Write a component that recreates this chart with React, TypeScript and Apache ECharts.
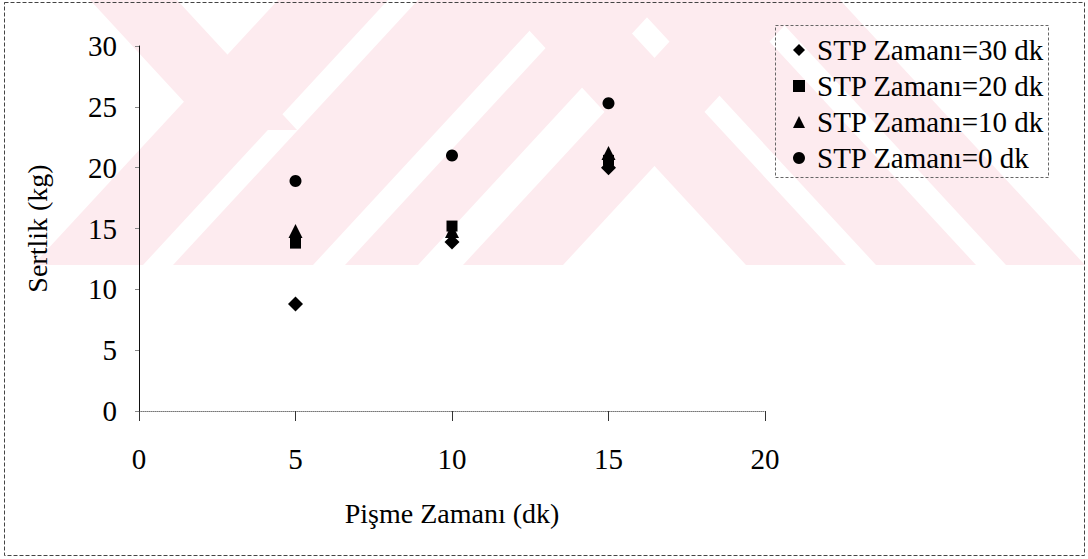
import React, { useEffect, useRef } from "react";
import * as echarts from "echarts";

const seriesNames = ["STP Zamanı=30 dk", "STP Zamanı=20 dk", "STP Zamanı=10 dk", "STP Zamanı=0 dk"];
const cookTimes = [5, 10, 15];
const hardness30 = [8.8, 13.9, 20.0];
const hardness20 = [13.8, 15.2, 20.6];
const hardness10 = [14.8, 14.8, 21.2];
const hardness0 = [18.9, 21.0, 25.3];
const xTicks = [0, 20, 5];
const yTicks = [0, 30, 5];

const FONT = "Liberation Serif";
const PINK = "#fdebef";

function band(x1: number, x2: number, dx: number, topY: number, botY: number) {
  return {
    type: "polygon",
    z: -10,
    silent: true,
    shape: { points: [[x1, topY], [x2, topY], [x2 + dx, botY], [x1 + dx, botY]] },
    style: { fill: PINK },
  };
}

export default function App() {
  const ref = useRef<HTMLDivElement>(null);
  useEffect(() => {
    document.body.style.margin = "0";
    const chart = echarts.init(ref.current!, null, { renderer: "svg" });
    const data = [hardness30, hardness20, hardness10, hardness0];
    const symbols = ["diamond", "rect", "triangle", "circle"];
    const sizes = [15, 11, 14, 12];
    const watermark = [
      band(278, 388, -245, 0, 265),
      band(418, 558, -245, 0, 265),
      band(590, 663, -245, 0, 265),
      band(708, 808, -245, 0, 265),
      band(90, 177, 120, 0, 130),
      band(501, 601, 245, 0, 265),
      band(631, 731, 245, 0, 265),
      band(761, 840, 245, 0, 265),
    ];
    chart.setOption({
      animation: false,
      textStyle: { fontFamily: FONT, color: "#000" },
      grid: { left: 139, top: 46, right: 323, bottom: 148, containLabel: false },
      xAxis: {
        type: "value",
        min: xTicks[0],
        max: xTicks[1],
        interval: xTicks[2],
        name: "Pişme Zamanı (dk)",
        nameLocation: "middle",
        nameGap: 88,
        nameTextStyle: { fontFamily: FONT, fontSize: 28, color: "#000" },
        axisLine: { lineStyle: { color: "#777", type: "dotted", width: 1 } },
        axisTick: { show: true, length: 10, lineStyle: { color: "#333" } },
        axisLabel: { fontFamily: FONT, fontSize: 29, color: "#000", margin: 33 },
        splitLine: { show: false },
      },
      yAxis: {
        type: "value",
        min: yTicks[0],
        max: yTicks[1],
        interval: yTicks[2],
        name: "Sertlik (kg)",
        nameLocation: "middle",
        nameGap: 88,
        nameRotate: 90,
        nameTextStyle: { fontFamily: FONT, fontSize: 28, color: "#000" },
        axisLine: { show: true, lineStyle: { color: "#111", width: 1 } },
        axisTick: { show: true, length: 4, lineStyle: { color: "#888" } },
        axisLabel: { fontFamily: FONT, fontSize: 29, color: "#000", margin: 22 },
        splitLine: { show: false },
      },
      legend: {
        orient: "vertical",
        left: 788,
        top: 30,
        itemWidth: 12,
        itemHeight: 12,
        itemGap: 6,
        data: seriesNames,
        textStyle: { fontFamily: FONT, fontSize: 29, color: "#000", lineHeight: 30, padding: [0, 0, 0, 7] },
      },
      graphic: [
        ...watermark,
        {
          type: "rect",
          z: -5,
          silent: true,
          shape: { x: 4.5, y: 2.5, width: 1080, height: 553 },
          style: { fill: "none", stroke: "#444", lineWidth: 1, lineDash: [4, 2] },
        },
        {
          type: "rect",
          z: -5,
          silent: true,
          shape: { x: 775.5, y: 25.5, width: 273, height: 152 },
          style: { fill: "none", stroke: "#666", lineWidth: 1, lineDash: [3, 2] },
        },
      ],
      series: seriesNames.map((name, i) => ({
        name,
        type: "scatter",
        symbol: symbols[i],
        symbolSize: sizes[i],
        itemStyle: { color: "#000", opacity: 1 },
        data: cookTimes.map((x, j) => [x, data[i][j]]),
      })),
    });
    return () => chart.dispose();
  }, []);
  return <div ref={ref} style={{ width: 1088, height: 559 }} />;
}
